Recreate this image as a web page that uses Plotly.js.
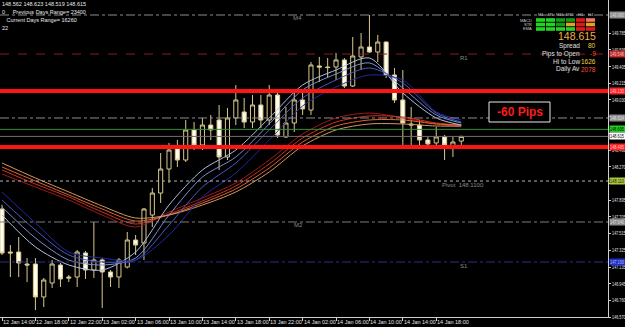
<!DOCTYPE html>
<html><head><meta charset="utf-8">
<script src="https://cdn.plot.ly/plotly-3.0.1.min.js"></script>
<style>html,body{margin:0;padding:0;background:#000;overflow:hidden}#chart{width:625px;height:327px;}</style>
</head><body><div id="chart"></div>
<script>
// ---- Candles (H1), index 0 = 12 Jan 14:00 ----
const openP  = [147.793,147.306,147.306,147.170,147.170,146.797,146.955,147.159,147.023,147.023,147.295,147.102,147.216,147.080,147.023,147.136,147.442,147.408,147.725,147.974,148.246,148.484,148.348,148.688,148.518,148.744,148.801,148.382,148.824,148.892,148.778,148.971,148.801,149.084,148.609,148.767,149.028,148.914,149.413,149.401,149.401,149.481,149.186,149.515,149.628,149.571,149.684,149.311,149.028,148.756,148.744,148.575,148.541,148.609,148.495,148.562];
const highP  = [147.840,147.385,147.476,147.238,147.238,147.012,147.216,147.182,147.046,147.329,147.317,147.646,147.238,147.102,147.238,147.533,147.499,147.804,148.031,148.427,148.541,148.575,148.801,148.778,148.824,148.858,148.971,148.937,149.197,149.050,149.084,149.084,149.197,149.141,148.948,149.118,149.107,149.458,149.515,149.503,149.560,149.503,149.741,149.786,149.990,149.764,149.690,149.390,149.367,148.948,148.801,148.609,148.722,148.631,148.609,148.623];
const lowP   = [147.272,147.023,147.023,146.966,146.649,146.683,146.898,146.910,146.966,146.910,147.000,147.012,146.672,146.910,146.898,147.120,147.272,147.216,147.589,147.861,148.088,148.269,148.325,148.461,148.461,148.575,148.235,148.348,148.744,148.710,148.710,148.710,148.744,148.598,148.598,148.665,148.858,148.858,149.231,149.277,149.254,149.163,149.175,149.367,149.560,149.458,149.277,148.994,148.518,148.518,148.518,148.518,148.518,148.348,148.382,148.519];
const closeP = [147.295,147.295,147.182,147.159,146.797,146.989,147.170,147.000,147.012,147.306,147.102,147.216,147.080,147.023,147.216,147.442,147.385,147.793,147.974,148.246,148.461,148.348,148.688,148.518,148.744,148.688,148.382,148.824,149.028,148.778,148.971,148.801,149.084,148.631,148.767,149.028,148.926,149.424,149.400,149.395,149.481,149.186,149.526,149.628,149.571,149.684,149.311,149.028,148.767,148.744,148.575,148.529,148.609,148.518,148.552,148.615];

// ---- Moving-average ribbons, sampled at candle indices ----
const maIdx = [0,4,8,12,16,20,24,28,32,36,40,44,48,52,55];
const slowMA1 = [148.189,148.042,147.895,147.725,147.589,147.759,147.918,148.088,148.348,148.642,148.824,148.880,148.824,148.756,148.722];
const slowMA2 = [148.235,148.076,147.929,147.759,147.623,147.736,147.884,148.054,148.303,148.597,148.778,148.846,148.835,148.767,148.744];
const slowMA3 = [148.269,148.110,147.952,147.793,147.657,147.725,147.861,148.020,148.257,148.552,148.733,148.801,148.801,148.756,148.744];
const slowMA4 = [148.314,148.144,147.986,147.827,147.691,147.725,147.838,147.986,148.212,148.507,148.688,148.756,148.756,148.733,148.733];
const fastMA1 = [147.725,147.363,147.159,147.102,147.306,147.838,148.235,148.461,148.824,149.197,149.367,149.503,149.107,148.824,148.744];
const fastMA2 = [147.816,147.465,147.215,147.159,147.238,147.725,148.155,148.382,148.756,149.141,149.322,149.447,149.163,148.858,148.767];
const fastMA3 = [147.895,147.555,147.272,147.193,147.215,147.612,148.042,148.314,148.688,149.050,149.254,149.390,149.220,148.880,148.778];
const fastMA4 = [147.986,147.635,147.306,147.238,147.215,147.499,147.929,148.201,148.574,148.960,149.175,149.311,149.254,148.892,148.801];

// ---- Axis ticks ----
const xTickIdx = [0,4,8,12,16,20,24,28,32,36,40,44,48,52];
const xTickLabels = ["12 Jan 14:00","12 Jan 18:00","12 Jan 22:00","13 Jan 02:00","13 Jan 06:00","13 Jan 10:00","13 Jan 14:00","13 Jan 18:00","13 Jan 22:00","14 Jan 02:00","14 Jan 06:00","14 Jan 10:00","14 Jan 14:00","14 Jan 18:00"];
const yTicks = [146.570,146.760,146.945,147.135,147.325,147.515,147.705,147.895,148.085,148.270,148.460,148.650,148.840,149.030,149.215,149.405,149.595,149.785];
const yTicksCovered = [148.085,148.650,148.840];

// ---- Horizontal levels ----
const levelNames  = ["M4","R1","L2","Open","Bid","Hi","Lo","Pivot","M2","S1"];
const levelValues = [149.990,149.548,148.824,148.695,148.615,149.130,148.495,148.110,147.646,147.193];

// ---- Info panel ----
const tfNames = ["M1","M5","M15","M30","H1","H4"];
const rowNames = ["MACD","STR","EMA"];
const signalRows = [
  ["up","up","up2","up2","dn","dn2"],
  ["up","up","up2","fl","dn","fl"],
  ["up","up","up","up","dn","dn"]
];
const infoLabels = ["Spread","Pips to Open","Hi to Low","Daily Av"];
const infoValues = ["80","-9","1626","2078"];
const headerText = ["148.562 148.623 148.519 148.615","0     Previous Days Range= 23400","   Current Days Range= 16260","22"];
const bigPrice = "148.615";
const pipsText = "-60 Pips";

// ---------------- drawing ----------------
const W = 608, H = 317;
const px = x => x / W, py = y => 1 - y / H;
const FONT = "Liberation Sans, Arial, sans-serif";
const xIdx = openP.map((_, i) => i);

const traces = [{
  type: 'candlestick', x: xIdx, open: openP, high: highP, low: lowP, close: closeP,
  increasing: {line: {color: '#d8c88e', width: 1}, fillcolor: '#000000'},
  decreasing: {line: {color: '#d8c88e', width: 1}, fillcolor: '#fffdf0'},
  whiskerwidth: 0, hoverinfo: 'skip'
}];
const slowCols = ['#a3191a', '#cf3322', '#e2662e', '#d49a62'];
const fastCols = ['#aebee6', '#7a90d6', '#4a5ac0', '#1f2aa0'];
[slowMA1, slowMA2, slowMA3, slowMA4].forEach((s, k) => traces.push({type:'scatter', mode:'lines', x: maIdx, y: s, line:{color: slowCols[k], width:1, shape:'spline', smoothing:0.8}, hoverinfo:'skip'}));
[fastMA1, fastMA2, fastMA3, fastMA4].forEach((s, k) => traces.push({type:'scatter', mode:'lines', x: maIdx, y: s, line:{color: fastCols[k], width:1, shape:'spline', smoothing:0.8}, hoverinfo:'skip'}));

const levelStyle = {
  M4:   {c:'#8c8c8c', d:'dashdot', w:1, bg:'#8c8c8c', fc:'#dddddd'},
  R1:   {c:'#8a1c1c', d:'dash',    w:1, bg:'#c42a2a', fc:'#f0c0c0'},
  L2:   {c:'#8c8c8c', d:'dashdot', w:1, bg:'#8c8c8c', fc:'#e0e0e0'},
  Open: {c:'#3c8c3c', d:'solid',   w:1, bg:'#22d022', fc:'#000000'},
  Bid:  {c:'#707070', d:'solid',   w:1, bg:'#ffffff', fc:'#000000'},
  Hi:   {c:'#ff1414', d:'solid',   w:4, bg:'#ff2020', fc:'#ffd0d0'},
  Lo:   {c:'#ff1414', d:'solid',   w:4, bg:'#ff2020', fc:'#ffd0d0'},
  Pivot:{c:'#b4b4b4', d:'dot',     w:1, bg:'#a8c840', fc:'#202000'},
  M2:   {c:'#7c7c7c', d:'dashdot', w:1, bg:'#8c8c8c', fc:'#dddddd'},
  S1:   {c:'#2e2e90', d:'dashdot', w:1, bg:'#2030c8', fc:'#b0b8ff'}
};

const shapes = [], ann = [];
levelNames.forEach((n, k) => {
  const st = levelStyle[n];
  shapes.push({type:'line', xref:'paper', x0:0, x1:1, yref:'y', y0:levelValues[k], y1:levelValues[k], line:{color:st.c, width:st.w, dash:st.d}, layer:'above'});
  ann.push({xref:'paper', x:1, xanchor:'left', xshift:1, yref:'y', y:levelValues[k], yanchor:'middle', text:levelValues[k].toFixed(3), showarrow:false, bgcolor:st.bg, borderpad:0, width:15, height:6, align:'left', font:{size:5.5, color:st.fc, family:FONT}});
});
const nLevelAnn = ann.length;

// x tick labels (left-aligned at their tick, just under the axis)
xTickIdx.forEach((v, k) => ann.push({xref:'x', x:v, yref:'paper', y:py(322), xanchor:'left', yanchor:'middle', xshift:-1, text:xTickLabels[k], showarrow:false, font:{size:5.5, color:'#e0e0e0', family:FONT}}));

// level tags on chart
const tag = (t, x, y, c) => ann.push({xref:'paper', yref:'paper', x:px(x), y:py(y), xanchor:'left', yanchor:'middle', text:t, showarrow:false, font:{size:6, color:c || '#8a8a8a', family:FONT}});
tag("M4", 291, 18); tag("R1", 458, 58); tag("M2", 292, 225); tag("S1", 458, 266);
tag("Pivot  " + levelValues[7].toFixed(4), 440, 185);

// header text
headerText.forEach((t, k) => ann.push({xref:'paper', yref:'paper', x:0, y:py(4 + k * 8), xanchor:'left', yanchor:'middle', text:t.replace(/ /g,'&nbsp;'), showarrow:false, font:{size:5.5, color:'#e8e8e8', family:FONT}}));

// signal panel
const sigCol = {up:'#22d422', up2:'#139a13', dn:'#e01818', dn2:'#f07a5a', fl:'#e8a020'};
tfNames.forEach((t, j) => ann.push({xref:'paper', yref:'paper', x:px(540.5 + j * 10), y:py(14.5), xanchor:'center', yanchor:'middle', text:t, showarrow:false, font:{size:4, color:'#c8c8c8', family:FONT}}));
rowNames.forEach((r, i) => {
  ann.push({xref:'paper', yref:'paper', x:px(534), y:py(20 + i * 4.5), xanchor:'right', yanchor:'middle', text:r, showarrow:false, font:{size:4, color:'#c8c8c8', family:FONT}});
  signalRows[i].forEach((s, j) => shapes.push({type:'rect', xref:'paper', yref:'paper', x0:px(536 + j * 10), x1:px(545 + j * 10), y0:py(18.2 + i * 4.5), y1:py(21.8 + i * 4.5), line:{width:0}, fillcolor:sigCol[s], layer:'above'}));
});
ann.push({xref:'paper', yref:'paper', x:px(598), y:py(36), xanchor:'right', yanchor:'middle', text:bigPrice, showarrow:false, font:{size:10.5, color:'#f2b040', family:FONT}});
const infoY = [45.5, 53.5, 61.5, 69.5];
const infoValCol = ['#f2d040', '#ff5030', '#f2d040', '#ff5030'];
infoLabels.forEach((l, k) => {
  ann.push({xref:'paper', yref:'paper', x:px(582), y:py(infoY[k]), xanchor:'right', yanchor:'middle', text:l, showarrow:false, font:{size:6.5, color:'#e0e0e0', family:FONT}});
  ann.push({xref:'paper', yref:'paper', x:px(598), y:py(infoY[k]), xanchor:'right', yanchor:'middle', text:infoValues[k], showarrow:false, font:{size:6.5, color:infoValCol[k], family:FONT}});
});

// -60 pips box
shapes.push({type:'rect', xref:'paper', yref:'paper', x0:px(489), x1:px(550), y0:py(102), y1:py(122), line:{color:'#e8e8e8', width:1}, fillcolor:'#000', layer:'above'});
ann.push({xref:'paper', yref:'paper', x:px(519.5), y:py(112), xanchor:'center', yanchor:'middle', text:'<b>' + pipsText + '</b>', showarrow:false, font:{size:12, color:'#ff1a1a', family:FONT}});

const layout = {
  width: 625, height: 327, margin:{l:0, r:17, t:0, b:10},
  paper_bgcolor:'#000', plot_bgcolor:'#000', showlegend:false, dragmode:false,
  xaxis:{range:[-0.24, 72.57], tickmode:'array', tickvals:xTickIdx, showticklabels:false, showgrid:false, zeroline:false,
         showline:true, linecolor:'#cfcfcf', linewidth:1, ticks:'outside', ticklen:3, tickcolor:'#cfcfcf',
         rangeslider:{visible:false}, fixedrange:true},
  yaxis:{side:'right', range:[146.570, 150.160], tickmode:'array', tickvals:yTicks,
         ticktext:yTicks.map(v => yTicksCovered.includes(v) ? '' : v.toFixed(3)),
         showgrid:false, zeroline:false, showline:true, linecolor:'#cfcfcf', linewidth:1, ticks:'outside', ticklen:2,
         tickcolor:'#cfcfcf', tickfont:{size:5.5, color:'#e0e0e0', family:FONT}, ticklabelstandoff:0, fixedrange:true},
  shapes: shapes, annotations: ann
};
Plotly.newPlot('chart', traces, layout, {staticPlot:true, displayModeBar:false}).then(gd => {
  // squeeze the right-hand price texts so they fit the 14 px strip, as in the terminal
  const squeeze = (t, len) => { t.setAttribute('textLength', len); t.setAttribute('lengthAdjust', 'spacingAndGlyphs'); };
  gd.querySelectorAll('.ytick text').forEach(t => { if (t.textContent) squeeze(t, 13.5); });
  const annEls = gd.querySelectorAll('.annotation');
  for (let k = 0; k < nLevelAnn && k < annEls.length; k++) {
    const t = annEls[k].querySelector('text.annotation-text');
    if (t) squeeze(t, 14);
  }
});
</script>
</body></html>
